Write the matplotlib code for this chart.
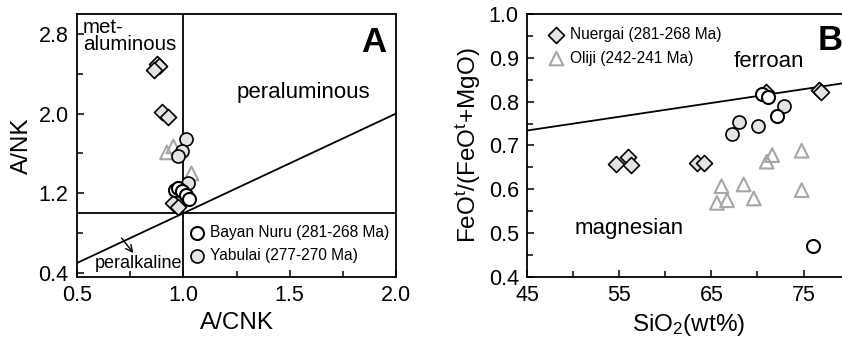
import matplotlib
matplotlib.use("Agg")
import matplotlib.pyplot as plt
from matplotlib.ticker import MultipleLocator

plt.rcParams["font.family"] = ["Liberation Sans", "DejaVu Sans"]
plt.rcParams["mathtext.default"] = "regular"

# ---- panel A: A/CNK vs A/NK ----
a_nuergai_x = [0.875, 0.887, 0.861, 0.902, 0.929, 0.950, 0.975]
a_nuergai_y = [2.50, 2.48, 2.44, 2.02, 1.97, 1.10, 1.06]
a_oliji_x = [0.923, 0.953, 1.038]
a_oliji_y = [1.61, 1.67, 1.40]
a_yabulai_x = [1.014, 0.994, 0.977, 1.022]
a_yabulai_y = [1.74, 1.62, 1.57, 1.30]
a_bayan_x = [0.962, 0.975, 0.994, 1.014, 1.025]
a_bayan_y = [1.235, 1.25, 1.22, 1.185, 1.14]

# ---- panel B: SiO2 vs FeOt/(FeOt+MgO) ----
b_nuergai_x = [54.6, 55.9, 56.3, 63.4, 64.2, 70.9, 76.7, 76.9]
b_nuergai_y = [0.658, 0.674, 0.655, 0.661, 0.661, 0.823, 0.826, 0.823]
b_oliji_x = [71.6, 71.0, 74.8, 66.1, 68.5, 65.6, 66.7, 69.6, 74.8]
b_oliji_y = [0.678, 0.663, 0.688, 0.607, 0.611, 0.569, 0.575, 0.579, 0.598]
b_yabulai_x = [67.2, 68.0, 70.1, 72.9]
b_yabulai_y = [0.726, 0.754, 0.745, 0.791]
b_bayan_x = [70.5, 71.2, 72.1, 76.0]
b_bayan_y = [0.817, 0.810, 0.766, 0.471]

ferroan_line_x = [45, 80]
ferroan_line_y = [0.734, 0.844]

GREY_FILL = "#e4e4e4"
TRI_EDGE = "#a6a6a6"
MS = 88
TICK_FS = 15.5
LABEL_FS = 17.5
REGION_FS = 16
LEG_FS = 11.2

fig = plt.figure(figsize=(8.42, 3.39), dpi=100)
axA = fig.add_axes([0.0914, 0.183, 0.379, 0.776])
axB = fig.add_axes([0.626, 0.183, 0.383, 0.776])


def style_axis(ax):
    for s in ax.spines.values():
        s.set_linewidth(1.3)
    ax.tick_params(which="both", direction="in", width=1.1, labelsize=TICK_FS,
                   top=False, right=False, pad=6)
    ax.tick_params(which="major", length=5)
    ax.tick_params(which="minor", length=4)


def draw_points(ax, nx, ny, ox, oy, yx, yy, bx, by):
    ax.scatter(nx, ny, marker="D", s=MS * 0.75, facecolor=GREY_FILL,
               edgecolor="black", linewidth=1.2, zorder=3,
               label="Nuergai (281-268 Ma)")
    ax.scatter(ox, oy, marker="^", s=MS * 1.1, facecolor="none",
               edgecolor=TRI_EDGE, linewidth=1.5, zorder=3,
               label="Oliji (242-241 Ma)")
    ax.scatter(yx, yy, marker="o", s=MS, facecolor=GREY_FILL,
               edgecolor="black", linewidth=1.2, zorder=4,
               label="Yabulai (277-270 Ma)")
    ax.scatter(bx, by, marker="o", s=MS, facecolor="white",
               edgecolor="black", linewidth=1.5, zorder=5,
               label="Bayan Nuru (281-268 Ma)")


legend_kw = dict(frameon=False, fontsize=LEG_FS, borderpad=0,
                 borderaxespad=0, handlelength=1.2, handletextpad=0.25,
                 labelspacing=0.55, scatterpoints=1)

# panel A
axA.set_xlim(0.5, 2.0)
axA.set_ylim(0.36, 3.0)
axA.axvline(1.0, color="black", lw=1.3, zorder=2)
axA.axhline(1.0, color="black", lw=1.3, zorder=2)
axA.plot([0.5, 2.0], [0.5, 2.0], color="black", lw=1.3, zorder=2)
draw_points(axA, a_nuergai_x, a_nuergai_y, a_oliji_x, a_oliji_y,
            a_yabulai_x, a_yabulai_y, a_bayan_x, a_bayan_y)
axA.xaxis.set_major_locator(MultipleLocator(0.5))
axA.xaxis.set_minor_locator(MultipleLocator(0.25))
axA.set_yticks([0.4, 1.2, 2.0, 2.8])
axA.set_yticks([0.8, 1.6, 2.4], minor=True)
style_axis(axA)
axA.set_xlabel("A/CNK", fontsize=LABEL_FS, labelpad=4)
axA.set_ylabel("A/NK", fontsize=LABEL_FS, labelpad=4)
axA.text(0.018, 0.985, "met-\naluminous", transform=axA.transAxes,
         fontsize=14.8, ha="left", va="top", linespacing=0.9)
axA.text(0.708, 0.703, "peraluminous", transform=axA.transAxes,
         fontsize=REGION_FS, ha="center", va="center")
axA.text(0.056, 0.018, "peralkaline", transform=axA.transAxes,
         fontsize=13, ha="left", va="bottom")
axA.annotate("", xy=(0.765, 0.60), xytext=(0.71, 0.75),
             arrowprops=dict(arrowstyle="->", color="black", lw=1.0,
                             shrinkA=0, shrinkB=0, mutation_scale=12))
axA.text(0.97, 0.955, "A", transform=axA.transAxes, fontsize=25,
         fontweight="bold", ha="right", va="top")
hA, lA = axA.get_legend_handles_labels()
axA.legend([hA[3], hA[2]], [lA[3], lA[2]], loc="upper left",
           bbox_to_anchor=(0.346, 0.198), **legend_kw)

# panel B
axB.set_xlim(45, 80)
axB.set_ylim(0.4, 1.0)
axB.plot(ferroan_line_x, ferroan_line_y, color="black", lw=1.3, zorder=2)
draw_points(axB, b_nuergai_x, b_nuergai_y, b_oliji_x, b_oliji_y,
            b_yabulai_x, b_yabulai_y, b_bayan_x, b_bayan_y)
axB.set_xticks([45, 55, 65, 75])
axB.set_xticks([50, 60, 70], minor=True)
axB.yaxis.set_major_locator(MultipleLocator(0.1))
axB.yaxis.set_minor_locator(MultipleLocator(0.05))
style_axis(axB)
axB.set_xlabel("SiO$_2$(wt%)", fontsize=LABEL_FS, labelpad=4)
axB.set_ylabel("FeO$^t$/(FeO$^t$+MgO)", fontsize=LABEL_FS, labelpad=4)
axB.text(0.749, 0.819, "ferroan", transform=axB.transAxes,
         fontsize=REGION_FS, ha="center", va="center")
axB.text(0.317, 0.185, "magnesian", transform=axB.transAxes,
         fontsize=REGION_FS, ha="center", va="center")
axB.text(0.9, 0.96, "B", transform=axB.transAxes, fontsize=25,
         fontweight="bold", ha="left", va="top")
hB, lB = axB.get_legend_handles_labels()
axB.legend([hB[0], hB[1]], [lB[0], lB[1]], loc="upper left",
           bbox_to_anchor=(0.062, 0.95), **legend_kw)

fig.savefig("out.png", dpi=100)
